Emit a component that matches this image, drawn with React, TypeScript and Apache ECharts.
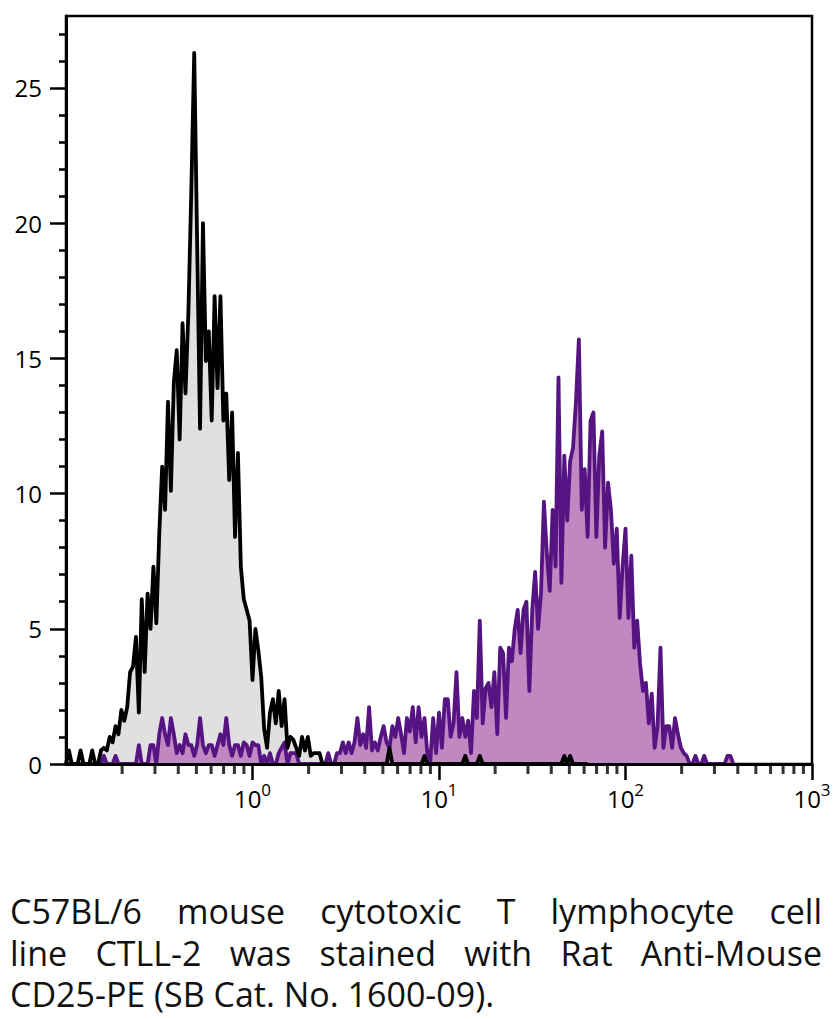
import React, { useEffect, useRef } from "react";
import * as echarts from "echarts";

// Channel scale: 64 channels per decade, first channel at 10^-1
const CHANNELS_PER_DECADE = 64;
const FIRST_DECADE = -1;

const xMin = -1;
const xMax = 3;
const yMin = 0;
const yMax = 27.66;

const xMajorTicks = [0, 1, 2, 3];
const xMinorTicks = [
  -0.699, -0.523, -0.398, -0.301, -0.222, -0.155, -0.097, -0.046,
  0.301, 0.477, 0.602, 0.699, 0.778, 0.845, 0.903, 0.954,
  1.301, 1.477, 1.602, 1.699, 1.778, 1.845, 1.903, 1.954,
  2.301, 2.477, 2.602, 2.699, 2.778, 2.845, 2.903, 2.954,
];
const yMajorTicks = [0, 5, 10, 15, 20, 25];
const yMinorTicks = [1, 2, 3, 4, 6, 7, 8, 9, 11, 12, 13, 14, 16, 17, 18, 19, 21, 22, 23, 24, 26, 27];

// Unstained / isotype (gray, black outline)
const controlCounts = [
  0, 0.5, 0, 0, 0, 0.5, 0, 0, 0, 0.5,
  0, 0, 0.5, 0.6, 0.5, 1.0, 0.8, 1.4, 1.1, 2.0,
  1.6, 2.1, 3.4, 3.6, 4.7, 1.9, 6.1, 3.4, 6.3, 5.0,
  7.3, 5.2, 8.5, 11.0, 9.4, 13.4, 10.1, 14.1, 15.3, 12.0,
  16.3, 13.7, 16.7, 21.2, 26.3, 19.3, 12.4, 20.0, 14.9, 16.0,
  12.7, 17.3, 13.9, 17.3, 12.7, 13.7, 10.5, 13.0, 8.4, 11.5,
  7.3, 6.1, 5.7, 5.3, 3.1, 5.0, 4.2, 3.2, 1.3, 0.6,
  1.9, 2.4, 1.5, 2.7, 1.4, 2.4, 0.6, 1.0, 0.9, 0.6,
  0.3, 1.0, 0.5, 1.0, 0.3, 0.4, 0.4, 0.4, 0, 0,
  0, 0, 0, 0, 0, 0, 0, 0, 0, 0,
  0, 0, 0, 0, 0, 0, 0, 0, 0, 0,
  0, 0.6, 0, 0, 0, 0, 0, 0, 0, 0,
  0, 0, 0, 0.3, 0, 0, 0, 0, 0, 0,
  0, 0, 0, 0, 0, 0, 0, 0.3, 0, 0,
  0, 0, 0.3, 0, 0, 0, 0, 0, 0, 0,
  0, 0, 0, 0, 0, 0, 0, 0, 0, 0,
  0, 0, 0, 0, 0, 0, 0, 0, 0, 0,
  0, 0.3, 0, 0.3, 0, 0, 0, 0, 0, 0,
];

// CD25-PE stained (purple)
const cd25Counts = [
  0, 0, 0, 0, 0, 0, 0, 0, 0, 0,
  0, 0, 0, 0.3, 0, 0, 0, 0.3, 0, 0,
  0, 0, 0, 0, 0, 0.7, 0, 0, 0, 0.7,
  0.7, 0, 1.1, 1.7, 1.1, 0.7, 1.7, 1.1, 0.4, 0.7,
  0.4, 1.1, 0.7, 0.7, 0.3, 0.7, 1.7, 0.7, 0.4, 0.7,
  0.7, 0.3, 0.7, 1.1, 0.7, 1.7, 0.7, 0.3, 0.7, 0.7,
  0.3, 0.8, 0.7, 0.3, 0.8, 0.7, 0.7, 0, 0.3, 0,
  0.4, 0, 0, 0.4, 0.6, 0.8, 0, 0.4, 0.4, 0.4,
  0, 0, 0, 0, 0, 0, 0, 0, 0, 0,
  0.4, 0, 0, 0.4, 0.4, 0.8, 0.4, 0.8, 0.4, 0.8,
  1.7, 0.7, 1.1, 0.6, 2.1, 0.5, 0.8, 0.5, 1.0, 1.4,
  0.8, 0.6, 1.4, 1.0, 1.7, 1.1, 0.4, 1.7, 1.2, 2.1,
  0.8, 2.1, 1.0, 1.7, 0.4, 0.1, 1.7, 0.4, 1.9, 0.6,
  2.4, 2.4, 1.0, 1.5, 3.4, 1.0, 1.7, 1.0, 1.6, 0.4,
  2.7, 1.7, 5.3, 1.5, 2.8, 3.0, 2.1, 3.4, 1.1, 4.3,
  4.1, 1.7, 4.3, 3.8, 5.0, 5.7, 4.1, 5.7, 6.0, 2.7,
  5.7, 7.1, 5.0, 6.3, 9.7, 7.8, 6.4, 9.4, 7.3, 14.3,
  6.7, 11.4, 9.0, 11.2, 11.7, 13.4, 15.7, 9.4, 10.9, 8.4,
  12.7, 13.0, 8.4, 11.4, 12.3, 8.0, 10.4, 9.4, 7.4, 8.7,
  5.4, 7.3, 8.7, 5.4, 7.7, 4.3, 5.3, 3.7, 2.7, 3.0,
  1.5, 2.6, 0.6, 1.4, 4.3, 0.6, 1.4, 1.4, 0.6, 1.7,
  1.1, 0.6, 0.4, 0.3, 0, 0, 0.3, 0, 0, 0.3,
  0, 0, 0, 0, 0, 0, 0, 0.3, 0.3, 0,
];

const captionLines = [
  "C57BL/6 mouse cytotoxic T lymphocyte cell",
  "line CTLL-2 was stained with Rat Anti-Mouse",
  "CD25-PE (SB Cat. No. 1600-09).",
];

const FONT = '"Open Sans", "Noto Sans", sans-serif';
const CAPTION_TOP = 896;
const CAPTION_PITCH = 41.5;

const toSeries = (counts: number[]) =>
  counts.map((v, i) => [FIRST_DECADE + i / CHANNELS_PER_DECADE, v]);

export default function App() {
  const ref = useRef<HTMLDivElement>(null);

  useEffect(() => {
    if (!ref.current) return;
    const chart = echarts.init(ref.current, null, { renderer: "svg" });
    const axisLine = { show: true, onZero: false, lineStyle: { color: "#000", width: 3 } };
    const hiddenLine = { show: false, onZero: false };
    chart.setOption({
      animation: false,
      backgroundColor: "#fff",
      grid: {
        left: 66,
        top: 16,
        right: 23,
        bottom: 96,
        show: true,
        borderColor: "#000",
        borderWidth: 2.5,
      },
      xAxis: {
        type: "value",
        min: xMin,
        max: xMax,
        interval: 1,
        position: "bottom",
        z: 5,
        axisLine,
        splitLine: { show: false },
        axisTick: {
          show: true,
          customValues: xMajorTicks,
          length: 16,
          lineStyle: { color: "#000", width: 2.5 },
        },
        axisLabel: {
          customValues: xMajorTicks,
          margin: 17,
          formatter: (v: number) => `{b|10}{s|${v}}`,
          rich: {
            b: { fontFamily: FONT, fontSize: 24, color: "#000", lineHeight: 34 },
            s: { fontFamily: FONT, fontSize: 17, color: "#000", lineHeight: 17, verticalAlign: "top" },
          },
        },
      },
      yAxis: [
        {
          type: "value",
          min: yMin,
          max: yMax,
          position: "left",
          z: 5,
          axisLine,
          splitLine: { show: false },
          axisTick: {
            show: true,
            customValues: yMajorTicks,
            length: 16,
            lineStyle: { color: "#000", width: 2.5 },
          },
          axisLabel: {
            customValues: yMajorTicks,
            margin: 24,
            fontFamily: FONT,
            fontSize: 24,
            color: "#000",
          },
        },
        {
          type: "value",
          min: yMin,
          max: yMax,
          position: "left",
          offset: 0,
          z: 5,
          axisLine: hiddenLine,
          splitLine: { show: false },
          axisLabel: { show: false },
          axisTick: {
            show: true,
            customValues: yMinorTicks,
            length: 7,
            lineStyle: { color: "#000", width: 2.5 },
          },
        },
      ],
      series: [
        {
          type: "line",
          name: "control fill",
          data: toSeries(controlCounts),
          showSymbol: false,
          symbol: "none",
          z: 1,
          lineStyle: { width: 0, color: "#000" },
          areaStyle: { color: "#e0e0e0", opacity: 1 },
        },
        {
          type: "line",
          name: "CD25-PE",
          data: toSeries(cd25Counts),
          showSymbol: false,
          symbol: "none",
          z: 2,
          lineStyle: { width: 3.8, color: "#551482", join: "round" },
          areaStyle: { color: "#c088c0", opacity: 1 },
        },
        {
          type: "line",
          name: "control",
          data: toSeries(controlCounts),
          showSymbol: false,
          symbol: "none",
          z: 3,
          lineStyle: { width: 3.8, color: "#000", join: "round" },
        },
        {
          type: "scatter",
          name: "minor x ticks",
          silent: true,
          clip: false,
          z: 10,
          symbol: "rect",
          symbolSize: [3, 10],
          symbolOffset: [0, 5],
          itemStyle: { color: "#000" },
          data: xMinorTicks.map((v) => [v, 0]),
        },
      ],
    });
    return () => chart.dispose();
  }, []);

  return (
    <div
      style={{
        position: "absolute",
        left: 0,
        top: 0,
        width: 835,
        height: 1019,
        background: "#fff",
        overflow: "hidden",
      }}
    >
      <div ref={ref} style={{ position: "absolute", left: 0, top: 0, width: 835, height: 860 }} />
      {captionLines.map((line, i) => {
        const justify = i < captionLines.length - 1;
        return (
          <div
            key={i}
            style={{
              position: "absolute",
              left: 10,
              top: CAPTION_TOP + i * CAPTION_PITCH,
              width: 812,
              height: 30,
              fontFamily: FONT,
              fontSize: 34,
              lineHeight: "30px",
              color: "#111",
              whiteSpace: "nowrap",
              textAlign: justify ? "justify" : "left",
              textAlignLast: justify ? "justify" : "left",
            } as React.CSSProperties}
          >
            {line}
          </div>
        );
      })}
    </div>
  );
}
